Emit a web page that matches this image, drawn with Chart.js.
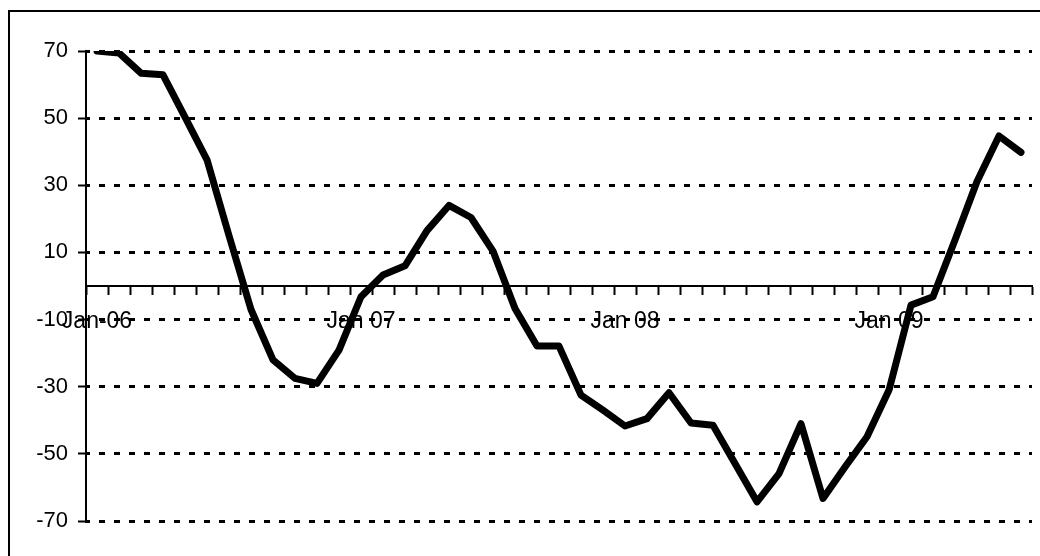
<!DOCTYPE html>
<html>
<head>
<meta charset="utf-8">
<script src="https://cdn.jsdelivr.net/npm/chart.js@4/dist/chart.umd.min.js"></script>
<style>
  html, body { margin: 0; padding: 0; background: #fff; }
  #chart { display: block; }
</style>
</head>
<body>
<canvas id="chart" width="1040" height="556"></canvas>
<script>
const months = [
    'Jan-06', 'Feb-06', 'Mar-06', 'Apr-06', 'May-06', 'Jun-06', 'Jul-06', 'Aug-06', 'Sep-06', 'Oct-06', 'Nov-06', 'Dec-06',
    'Jan-07', 'Feb-07', 'Mar-07', 'Apr-07', 'May-07', 'Jun-07', 'Jul-07', 'Aug-07', 'Sep-07', 'Oct-07', 'Nov-07', 'Dec-07',
    'Jan-08', 'Feb-08', 'Mar-08', 'Apr-08', 'May-08', 'Jun-08', 'Jul-08', 'Aug-08', 'Sep-08', 'Oct-08', 'Nov-08', 'Dec-08',
    'Jan-09', 'Feb-09', 'Mar-09', 'Apr-09', 'May-09', 'Jun-09', 'Jul-09'
];

const values = [
    70, 69.4, 63.4, 62.9, 50.3, 37.6, 15, -7, -22, -27.5, -29, -19.1,
    -3.2, 3.3, 6.0, 16.5, 24, 20.4, 10.4, -6.7, -17.9, -17.9, -32.5, -37,
    -41.7, -39.5, -31.8, -40.8, -41.5, -52.9, -64.3, -55.9, -41, -63.3, -53.9, -44.9,
    -31, -5.7, -3.2, 13.7, 31.1, 44.7, 39.8
];

// only the January ticks carry a label
const xTickLabels = { 0: 'Jan-06', 12: 'Jan 07', 24: 'Jan 08', 36: 'Jan 09' };
const yTicks = [-70, -50, -30, -10, 10, 30, 50, 70];

const fontFamily = "'Liberation Sans', Arial, sans-serif";

// outer frame of the picture (right and bottom edges fall outside the canvas)
const framePlugin = {
    id: 'frame',
    beforeDraw(chart) {
        const ctx = chart.ctx;
        ctx.save();
        ctx.strokeStyle = '#000';
        ctx.lineWidth = 2;
        ctx.strokeRect(9, 11, 1200, 700);
        ctx.restore();
    }
};

const chart = new Chart(document.getElementById('chart'), {
    type: 'line',
    data: {
        labels: months,
        datasets: [{
            data: values,
            borderColor: '#000',
            borderWidth: 7,
            borderJoinStyle: 'round',
            borderCapStyle: 'round',
            pointRadius: 0,
            tension: 0,
            fill: false
        }]
    },
    options: {
        responsive: false,
        animation: false,
        layout: {
            padding: { left: 10, top: 51, right: 8, bottom: 35 }
        },
        plugins: {
            legend: { display: false },
            tooltip: { enabled: false }
        },
        scales: {
            x: {
                type: 'category',
                position: { y: 0 },
                offset: true,
                grid: {
                    offset: true,
                    drawOnChartArea: false,
                    drawTicks: true,
                    tickLength: 8,
                    tickWidth: 2,
                    tickColor: '#000'
                },
                border: { display: true, color: '#000', width: 2 },
                ticks: {
                    autoSkip: false,
                    maxRotation: 0,
                    minRotation: 0,
                    padding: 14,
                    color: '#000',
                    font: { family: fontFamily, size: 23 },
                    callback: function (val, index) {
                        return xTickLabels[index] || '';
                    }
                }
            },
            y: {
                min: -70,
                max: 70,
                afterBuildTicks: function (scale) {
                    scale.ticks = yTicks.map(v => ({ value: v }));
                },
                afterFit: function (scale) {
                    scale.width = 76;
                },
                grid: {
                    color: '#000',
                    lineWidth: 3,
                    drawTicks: true,
                    tickLength: 8,
                    tickWidth: 2,
                    tickColor: '#000',
                    tickBorderDash: []
                },
                border: { display: true, color: '#000', width: 2, dash: [6, 9], dashOffset: 3 },
                ticks: {
                    padding: 10,
                    color: '#000',
                    font: { family: fontFamily, size: 22 }
                }
            }
        }
    },
    plugins: [framePlugin]
});
</script>
</body>
</html>
